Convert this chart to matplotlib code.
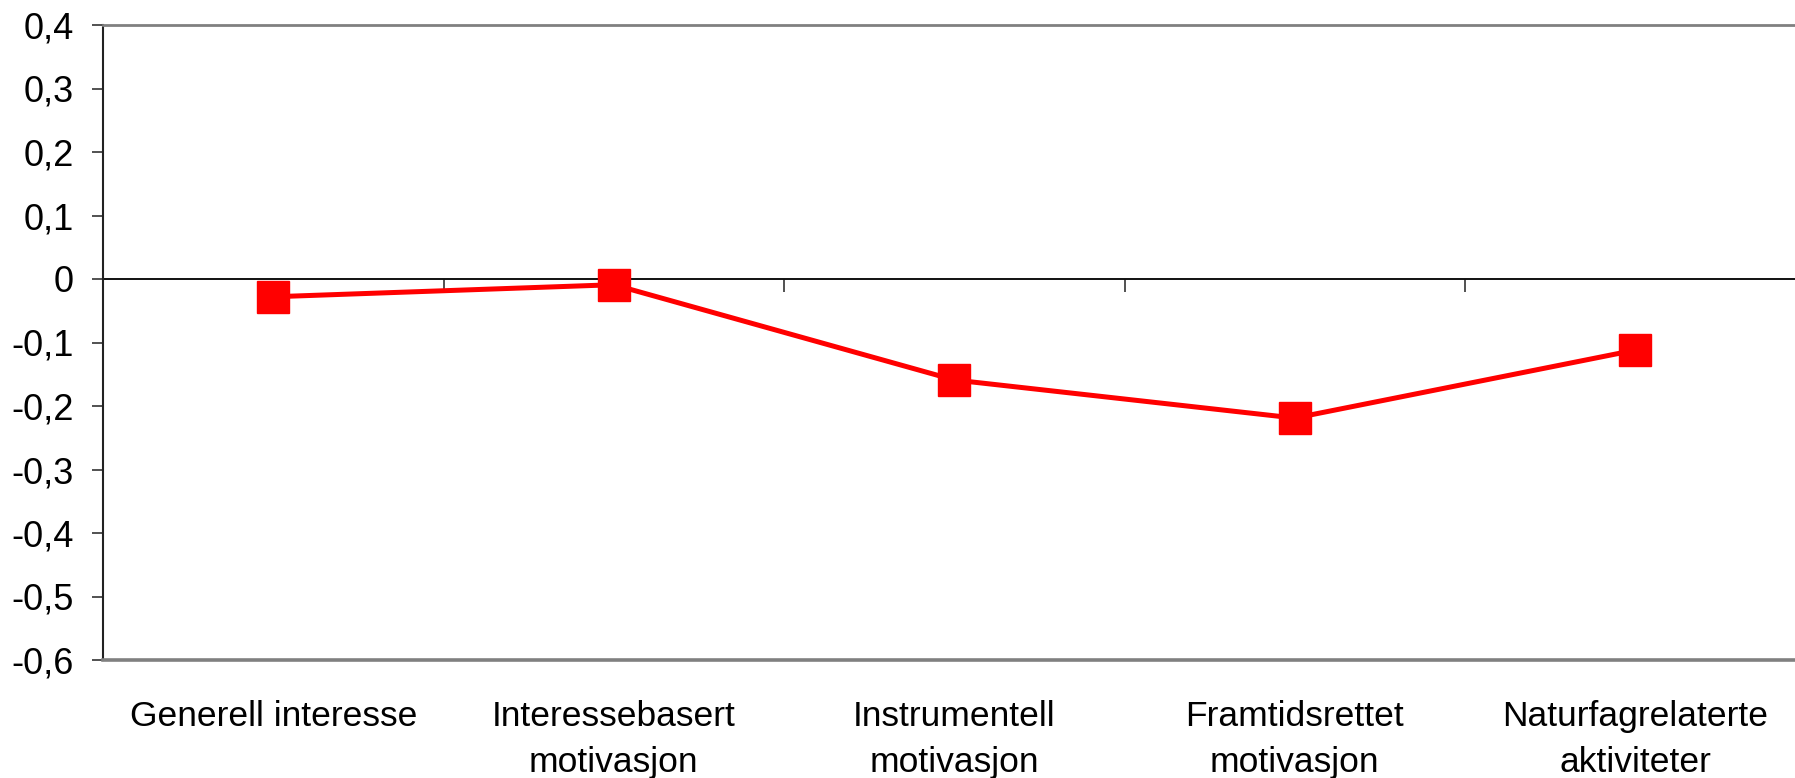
import numpy as np
import matplotlib
matplotlib.use('Agg')
import matplotlib.pyplot as plt
from matplotlib.ticker import FuncFormatter

categories = ["Generell interesse", "Interessebasert\nmotivasjon", "Instrumentell\nmotivasjon",
              "Framtidsrettet\nmotivasjon", "Naturfagrelaterte\naktiviteter"]
values = [-0.028, -0.009, -0.159, -0.219, -0.112]
yticks = [0.4, 0.3, 0.2, 0.1, 0.0, -0.1, -0.2, -0.3, -0.4, -0.5, -0.6]

plt.rcParams['font.family'] = ['Liberation Sans', 'DejaVu Sans']

fig = plt.figure(figsize=(17.95, 7.78), dpi=100)
ax = fig.add_axes([103 / 1795, 118 / 778, 1702.5 / 1795, 635 / 778])

x = np.arange(len(categories))
ax.plot(x, values, color='#ff0000', lw=3.6, marker='s', markersize=23,
        markerfacecolor='#ff0000', markeredgecolor='#ff0000', zorder=5, clip_on=False)

ax.set_xlim(-0.5, len(categories) - 0.5)
ax.set_ylim(-0.6, 0.4)
ax.set_yticks(yticks)


def fmt(v, pos):
    if abs(v) < 1e-9:
        return "0"
    return ("%.1f" % v).replace('.', ',')


ax.yaxis.set_major_formatter(FuncFormatter(fmt))
ax.tick_params(axis='y', direction='out', length=8, width=1.2, color='#333333',
               labelsize=26, pad=13)

ax.set_xticks(x)
ax.set_xticklabels(categories, fontsize=25.5, linespacing=1.48, va='top')
ax.tick_params(axis='x', length=0, pad=29)

ax.spines['top'].set_color('#808080')
ax.spines['top'].set_linewidth(2)
ax.spines['bottom'].set_color('#808080')
ax.spines['bottom'].set_linewidth(2.6)
ax.spines['left'].set_color('#222222')
ax.spines['left'].set_linewidth(1.5)
ax.spines['right'].set_visible(False)

# category axis crossing at zero
ax.axhline(0, color='#111111', lw=1.4, zorder=2)
zero_pos = (0 - (-0.6)) / (0.4 - (-0.6))
sec = ax.secondary_xaxis(zero_pos)
sec.set_xticks(np.arange(len(categories) + 1) - 0.5)
sec.set_xticklabels([])
for s in sec.spines.values():
    s.set_visible(False)
sec.tick_params(axis='x', direction='out', length=9, width=1.2, color='#333333',
                top=False, bottom=True, labelbottom=False, labeltop=False)

fig.savefig('out.png', dpi=100)
